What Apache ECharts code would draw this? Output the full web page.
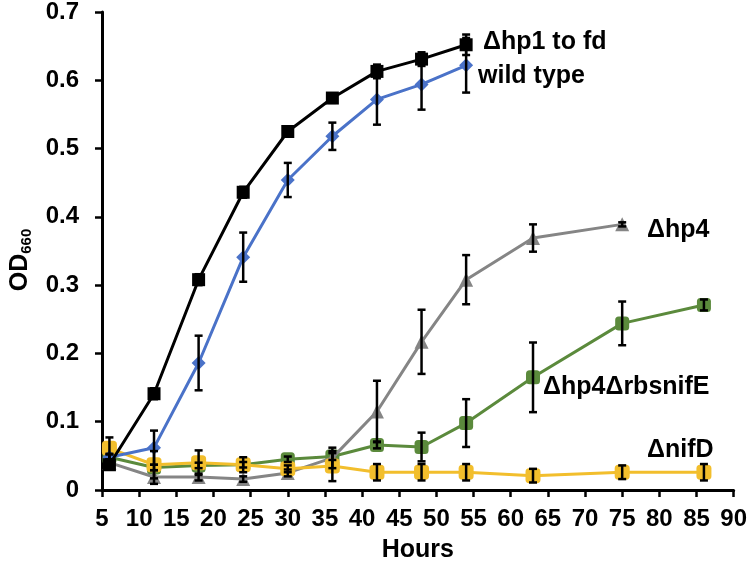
<!DOCTYPE html>
<html><head><meta charset="utf-8">
<script src="https://cdn.jsdelivr.net/npm/echarts@6/dist/echarts.min.js"></script>
<style>html,body{margin:0;padding:0;background:#fff}#c{width:750px;height:568px}</style>
</head><body><div id="c"></div>
<script>
// ---- data ----
const hoursShort = [6, 12, 18, 24, 30, 36, 42, 48, 54];
const hoursGray = [6, 12, 18, 24, 30, 36, 42, 48, 54, 63, 75];
const hoursLong = [6, 12, 18, 24, 30, 36, 42, 48, 54, 63, 75, 86];

const hp1Vals = [0.037, 0.141, 0.308, 0.436, 0.525, 0.574, 0.613, 0.631, 0.652];
const hp1Err  = [0.005, 0.008, 0.008, 0.008, 0.006, 0.007, 0.010, 0.010, 0.015];

const wtVals = [0.048, 0.062, 0.186, 0.341, 0.454, 0.518, 0.572, 0.594, 0.622];
const wtErr  = [0.005, 0.025, 0.040, 0.036, 0.025, 0.020, 0.037, 0.037, 0.040];

const hp4Vals = [0.040, 0.019, 0.019, 0.016, 0.025, 0.047, 0.115, 0.217, 0.308, 0.369, 0.389];
const hp4Err  = [0.005, 0.010, 0.005, 0.004, 0.005, 0.015, 0.045, 0.047, 0.036, 0.020, 0.003];

const rbsVals = [0.048, 0.033, 0.036, 0.037, 0.045, 0.049, 0.066, 0.063, 0.098, 0.165, 0.244, 0.271];
const rbsErr  = [0.004, 0.004, 0.004, 0.004, 0.004, 0.005, 0.005, 0.021, 0.035, 0.051, 0.032, 0.008];

const nifVals = [0.061, 0.037, 0.040, 0.037, 0.031, 0.035, 0.026, 0.026, 0.026, 0.021, 0.026, 0.026];
const nifErr  = [0.016, 0.020, 0.018, 0.011, 0.005, 0.022, 0.012, 0.012, 0.012, 0.010, 0.010, 0.012];

const xTicks = {min: 5, max: 90, interval: 5};
const yTicks = {min: 0, max: 0.7, interval: 0.1};

const labels = {
  hp1: 'Δhp1 to fd', wt: 'wild type', hp4: 'Δhp4', rbs: 'Δhp4ΔrbsnifE', nif: 'ΔnifD'
};

// ---- build ----
const FONT = '"Liberation Sans", Arial, sans-serif';
function pairs(xs, ys) { return xs.map((x, i) => [x, ys[i]]); }
function errData(xs, ys, es) { return xs.map((x, i) => [x, ys[i], es[i]]); }

function lineSeries(name, xs, ys, color, symbol, size, z) {
  return {
    name, type: 'line', data: pairs(xs, ys), z,
    symbol, symbolSize: size,
    lineStyle: {color, width: 3},
    itemStyle: {color, borderWidth: 0},
    emphasis: {disabled: true}, animation: false
  };
}
function errSeries(xs, ys, es, z) {
  return {
    type: 'custom', z, animation: false, silent: true,
    data: errData(xs, ys, es),
    renderItem(params, api) {
      const x = api.value(0), y = api.value(1), e = api.value(2);
      const t = api.coord([x, y + e]);
      const b = api.coord([x, y - e]);
      const cw = 4;
      const st = {stroke: '#000', lineWidth: 2.5};
      return {type: 'group', children: [
        {type: 'line', shape: {x1: t[0], y1: t[1], x2: b[0], y2: b[1]}, style: st},
        {type: 'line', shape: {x1: t[0] - cw, y1: t[1], x2: t[0] + cw, y2: t[1]}, style: st},
        {type: 'line', shape: {x1: b[0] - cw, y1: b[1], x2: b[0] + cw, y2: b[1]}, style: st}
      ]};
    }
  };
}

const chart = echarts.init(document.getElementById('c'), null, {renderer: 'canvas'});
const annot = (text, x, y) => ({
  type: 'text', x, y, z: 100,
  style: {text, font: 'bold 25px ' + FONT, fill: '#000', verticalAlign: 'middle'}
});

chart.setOption({
  backgroundColor: '#fff',
  animation: false,
  grid: {left: 87, right: 14, top: 11, bottom: 72},
  xAxis: {
    type: 'value', min: xTicks.min, max: xTicks.max, interval: xTicks.interval,
    name: 'Hours', nameLocation: 'middle', nameGap: 48,
    nameTextStyle: {fontFamily: FONT, fontWeight: 'bold', fontSize: 25, color: '#000'},
    axisLine: {lineStyle: {color: '#000', width: 3}},
    axisTick: {show: true, length: 7, lineStyle: {color: '#000', width: 2.5}},
    axisLabel: {fontFamily: FONT, fontWeight: 'bold', fontSize: 24, color: '#000', margin: 17},
    splitLine: {show: false}
  },
  yAxis: {
    type: 'value', min: yTicks.min, max: yTicks.max, interval: yTicks.interval,
    name: '{a|OD}{b|660}', nameLocation: 'middle', nameRotate: 90, nameGap: 68,
    nameTextStyle: {
      padding: [0, 18, 0, 0],
      rich: {
        a: {fontFamily: FONT, fontWeight: 'bold', fontSize: 25, color: '#000'},
        b: {fontFamily: FONT, fontWeight: 'bold', fontSize: 15, color: '#000', verticalAlign: 'bottom', padding: [12, 0, 0, 0]}
      }
    },
    axisLine: {show: true, lineStyle: {color: '#000', width: 3}},
    axisTick: {show: true, length: 7, lineStyle: {color: '#000', width: 2.5}},
    axisLabel: {
      fontFamily: FONT, fontWeight: 'bold', fontSize: 24, color: '#000', margin: 23,
      formatter: v => (v === 0 ? '0' : v.toFixed(1))
    },
    splitLine: {show: false}
  },
  series: [
    lineSeries(labels.rbs, hoursLong, rbsVals, '#5B8A3C', 'roundRect', 14, 2),
    lineSeries(labels.hp4, hoursGray, hp4Vals, '#858585', 'triangle', 14, 3),
    lineSeries(labels.nif, hoursLong, nifVals, '#F2BE2C', 'roundRect', 15, 4),
    lineSeries(labels.wt, hoursShort, wtVals, '#4A72C8', 'diamond', 14, 5),
    lineSeries(labels.hp1, hoursShort, hp1Vals, '#000000', 'rect', 13, 6),
    errSeries(hoursLong, rbsVals, rbsErr, 10),
    errSeries(hoursGray, hp4Vals, hp4Err, 10),
    errSeries(hoursLong, nifVals, nifErr, 10),
    errSeries(hoursShort, wtVals, wtErr, 10),
    errSeries(hoursShort, hp1Vals, hp1Err, 10)
  ],
  graphic: [
    annot(labels.hp1, 483, 42),
    annot(labels.wt, 478, 76),
    annot(labels.hp4, 647, 230),
    annot(labels.rbs, 543, 387),
    annot(labels.nif, 647, 450)
  ]
});
</script>
</body></html>
